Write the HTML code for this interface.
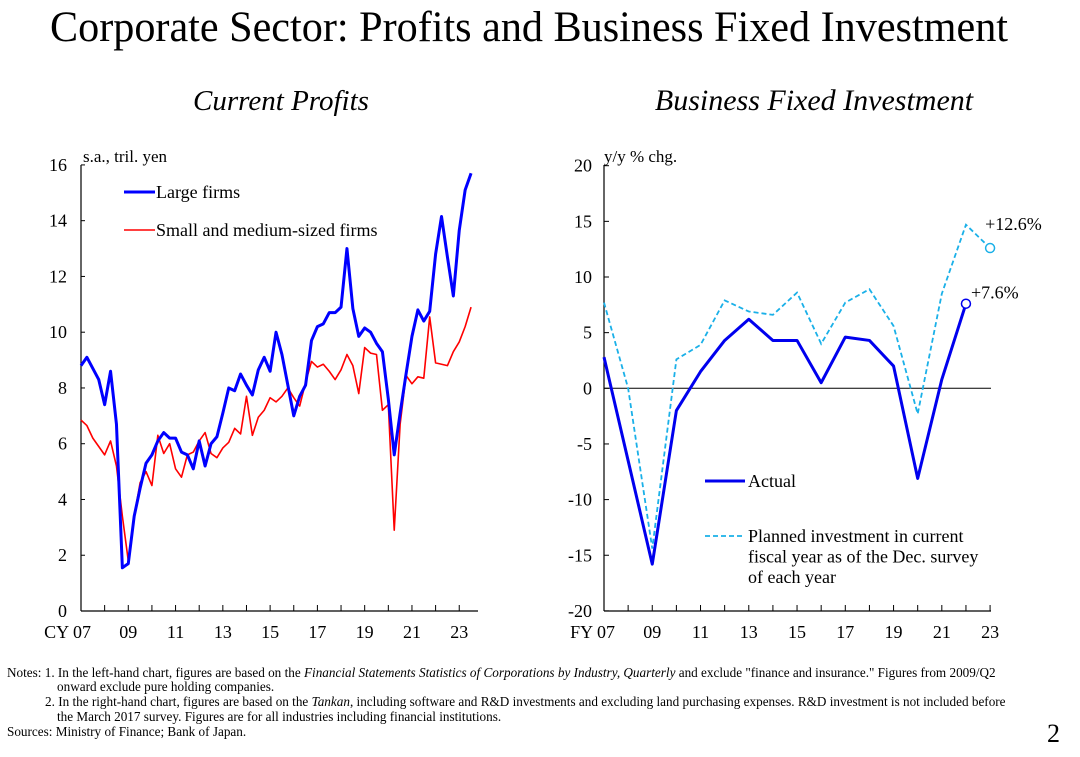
<!DOCTYPE html>
<html><head><meta charset="utf-8"><style>
html,body{margin:0;padding:0;background:#fff;}
svg{display:block;font-family:"Liberation Serif",serif;}
</style></head><body>
<svg id="s" width="1080" height="757" viewBox="0 0 1080 757" xmlns="http://www.w3.org/2000/svg">
<text x="529" y="41" font-size="43" text-anchor="middle" textLength="958" lengthAdjust="spacingAndGlyphs">Corporate Sector: Profits and Business Fixed Investment</text>
<text x="281" y="110" font-size="29" font-style="italic" text-anchor="middle">Current Profits</text>
<text x="814" y="110" font-size="30" font-style="italic" text-anchor="middle">Business Fixed Investment</text>
<g id="left"></g>
<g id="right"></g>
<g font-size="13.2">
<text x="7" y="677">Notes: 1. In the left-hand chart, figures are based on the <tspan font-style="italic">Financial Statements Statistics of Corporations by Industry, Quarterly</tspan> and exclude "finance and insurance." Figures from 2009/Q2</text>
<text x="57" y="691">onward exclude pure holding companies.</text>
<text x="45" y="706">2. In the right-hand chart, figures are based on the <tspan font-style="italic">Tankan</tspan>, including software and R&amp;D investments and excluding land purchasing expenses. R&amp;D investment is not included before</text>
<text x="57" y="721">the March 2017 survey. Figures are for all industries including financial institutions.</text>
<text x="7" y="736">Sources: Ministry of Finance; Bank of Japan.</text>
</g>
<text x="1060" y="742" font-size="26" text-anchor="end">2</text>
</svg>
<script>
const largeFirms=[8.8,9.1,8.7,8.3,7.4,8.6,6.7,1.55,1.7,3.4,4.4,5.3,5.6,6.1,6.4,6.2,6.2,5.7,5.6,5.1,6.1,5.2,6.0,6.25,7.1,8.0,7.9,8.5,8.1,7.75,8.65,9.1,8.6,10.0,9.2,8.1,7.0,7.7,8.1,9.7,10.2,10.3,10.7,10.7,10.9,13.0,10.85,9.85,10.15,10.0,9.6,9.3,7.6,5.6,7.1,8.5,9.85,10.8,10.4,10.75,12.8,14.15,12.7,11.3,13.65,15.1,15.7];
const smallFirms=[6.85,6.65,6.2,5.9,5.6,6.1,5.2,3.4,1.8,3.4,4.6,5.0,4.5,6.3,5.65,6.0,5.1,4.8,5.6,5.7,6.1,6.4,5.65,5.5,5.85,6.05,6.55,6.35,7.7,6.3,6.95,7.2,7.65,7.5,7.7,8.0,7.65,7.35,8.2,8.95,8.75,8.85,8.6,8.3,8.65,9.2,8.8,7.8,9.45,9.25,9.2,7.2,7.4,2.9,6.7,8.45,8.15,8.4,8.35,10.55,8.9,8.85,8.8,9.3,9.65,10.2,10.9];
const leftYTicks=[0,2,4,6,8,10,12,14,16];
const leftXLabels=["CY 07","09","11","13","15","17","19","21","23"];
const fyYears=[2007,2008,2009,2010,2011,2012,2013,2014,2015,2016,2017,2018,2019,2020,2021,2022,2023];
const actualInv=[2.8,-6.5,-15.8,-2.0,1.5,4.3,6.2,4.3,4.3,0.5,4.6,4.3,2.0,-8.1,0.8,7.6];
const plannedInv=[7.7,0.0,-14.4,2.6,3.9,7.9,6.9,6.6,8.6,4.0,7.7,8.9,5.6,-2.3,8.5,14.7,12.6];
const rightYTicks=[-20,-15,-10,-5,0,5,10,15,20];
const rightXLabels=["FY 07","09","11","13","15","17","19","21","23"];
const NS="http://www.w3.org/2000/svg";
function mk(parent,tag,attrs,txt){const e=document.createElementNS(NS,tag);for(const k in attrs)e.setAttribute(k,attrs[k]);if(txt!==undefined)e.textContent=txt;parent.appendChild(e);return e;}
// Left chart
const L=document.getElementById('left');
const lx=q=>81+q*5.91, ly=v=>611-v*27.88;
let e=mk(L,'line',{x1:81,y1:165,x2:81,y2:611,stroke:'#000','stroke-width':1.2});


e=mk(L,'line',{x1:81,y1:611,x2:478,y2:611,stroke:'#000','stroke-width':1.2});


leftYTicks.forEach(v=>{mk(L,'line',{x1:81,y1:ly(v),x2:85,y2:ly(v),stroke:'#000'});
 e=mk(L,'text',{x:67,y:ly(v)+6,'font-size':18,'text-anchor':'end'},String(v));
 
 });
for(let y=0;y<=16;y++){mk(L,'line',{x1:lx(y*4),y1:605,x2:lx(y*4),y2:611,stroke:'#000'});}
leftXLabels.forEach((t,i)=>{const x=lx(i*8);
 e=mk(L,'text',{x:i==0?x+10:x,y:638,'font-size':18,'text-anchor':i==0?'end':'middle'},t);
 
 });
e=mk(L,'text',{x:83,y:162,'font-size':17},'s.a., tril. yen');


e=mk(L,'polyline',{points:smallFirms.map((v,i)=>lx(i)+','+ly(v)).join(' '),fill:'none',stroke:'#ff0000','stroke-width':1.6,'stroke-linejoin':'round'});


e=mk(L,'polyline',{points:largeFirms.map((v,i)=>lx(i)+','+ly(v)).join(' '),fill:'none',stroke:'#0000ff','stroke-width':3,'stroke-linejoin':'round'});


mk(L,'line',{x1:124,y1:192,x2:155,y2:192,stroke:'#0000ff','stroke-width':3});
e=mk(L,'text',{x:156,y:198,'font-size':18},'Large firms');


mk(L,'line',{x1:124,y1:230,x2:155,y2:230,stroke:'#ff0000','stroke-width':1.6});
e=mk(L,'text',{x:156,y:236,'font-size':18},'Small and medium-sized firms');


// Right chart
const R=document.getElementById('right');
const rx=yr=>604+(yr-2007)*24.13, ry=v=>388.3-v*11.13;
e=mk(R,'line',{x1:604,y1:165,x2:604,y2:611,stroke:'#000','stroke-width':1.2});


e=mk(R,'line',{x1:604,y1:611,x2:991,y2:611,stroke:'#000','stroke-width':1.2});


e=mk(R,'line',{x1:604,y1:ry(0),x2:991,y2:ry(0),stroke:'#000','stroke-width':1});


rightYTicks.forEach(v=>{mk(R,'line',{x1:604,y1:ry(v),x2:609,y2:ry(v),stroke:'#000'});
 e=mk(R,'text',{x:592,y:ry(v)+6,'font-size':18,'text-anchor':'end'},String(v));
 
 });
fyYears.forEach(y=>mk(R,'line',{x1:rx(y),y1:605,x2:rx(y),y2:611,stroke:'#000'}));
rightXLabels.forEach((t,i)=>{const x=rx(2007+i*2);
 e=mk(R,'text',{x:i==0?x+11:x,y:638,'font-size':18,'text-anchor':i==0?'end':'middle'},t);
 
 });
e=mk(R,'text',{x:604,y:162,'font-size':17},'y/y % chg.');


e=mk(R,'polyline',{points:plannedInv.map((v,i)=>rx(fyYears[i])+','+ry(v)).join(' '),fill:'none',stroke:'#1ab0e8','stroke-width':1.8,'stroke-dasharray':'5,3'});


e=mk(R,'polyline',{points:actualInv.map((v,i)=>rx(fyYears[i])+','+ry(v)).join(' '),fill:'none',stroke:'#0000ee','stroke-width':3,'stroke-linejoin':'round'});


const la=actualInv.length-1, lp=plannedInv.length-1;
e=mk(R,'circle',{cx:rx(fyYears[la]),cy:ry(actualInv[la]),r:4.5,fill:'#fff',stroke:'#0000ee','stroke-width':1.5});


e=mk(R,'circle',{cx:rx(fyYears[lp]),cy:ry(plannedInv[lp]),r:4.5,fill:'#fff',stroke:'#1ab0e8','stroke-width':1.5});


e=mk(R,'text',{x:rx(fyYears[la])+5,y:ry(actualInv[la])-5,'font-size':18},'+'+actualInv[la].toFixed(1)+'%');


e=mk(R,'text',{x:rx(fyYears[lp])-5,y:ry(plannedInv[lp])-18,'font-size':18},'+'+plannedInv[lp].toFixed(1)+'%');


mk(R,'line',{x1:705,y1:481,x2:745,y2:481,stroke:'#0000ee','stroke-width':3});
e=mk(R,'text',{x:748,y:487,'font-size':18},'Actual');


mk(R,'line',{x1:705,y1:536,x2:745,y2:536,stroke:'#1ab0e8','stroke-width':1.8,'stroke-dasharray':'5,3'});
['Planned investment in current','fiscal year as of the Dec. survey','of each year'].forEach((t,i)=>{
 e=mk(R,'text',{x:748,y:542+i*20.5,'font-size':18},t);
 
 });
</script>
</body></html>
